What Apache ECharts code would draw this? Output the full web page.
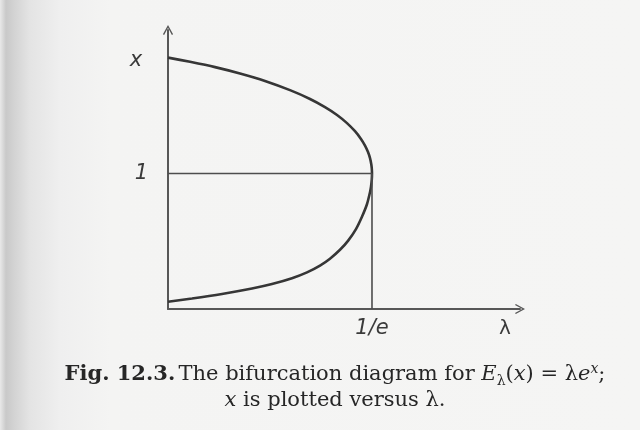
<!DOCTYPE html>
<html>
<head>
<meta charset="utf-8">
<script src="https://cdn.jsdelivr.net/npm/echarts@6/dist/echarts.min.js"></script>
<style>
  html, body { margin: 0; padding: 0; }
  body {
    width: 640px; height: 430px; overflow: hidden;
    background: linear-gradient(to right, #e9e9e9 0px, #c9c9c9 6px, #d3d3d3 14px, #e4e4e4 30px, #efefef 60px, #f4f4f3 110px, #f5f5f4 100%);
  }
  #chart { width: 640px; height: 430px; }
</style>
</head>
<body>
<div id="chart"></div>
<script>
// Fixed points x of E_lambda(x) = lambda * e^x, traced as x against lambda.
// Lower (attracting) branch, from lambda = 0 up to the fold at lambda = 1/e.
const lowerLambda = [0, 0.0433, 0.0974, 0.1515, 0.1875, 0.2236, 0.2507, 0.2741, 0.2921, 0.3102, 0.3246, 0.3390, 0.3498, 0.3588, 0.3643, 0.3661, 0.3675, 0.3679];
const lowerX      = [0.054, 0.0775, 0.111, 0.151, 0.184, 0.227, 0.270, 0.320, 0.371, 0.437, 0.503, 0.590, 0.681, 0.773, 0.862, 0.903, 0.956, 1.000];
// Upper (repelling) branch, from the fold back to lambda = 0.
const upperLambda = [0.3679, 0.3675, 0.3666, 0.3643, 0.3607, 0.3553, 0.3480, 0.3372, 0.3228, 0.3048, 0.2831, 0.2561, 0.2200, 0.1749, 0.1298, 0.0848, 0.0397, 0];
const upperX      = [1.000, 1.037, 1.068, 1.113, 1.158, 1.206, 1.255, 1.312, 1.372, 1.432, 1.490, 1.550, 1.615, 1.683, 1.738, 1.785, 1.824, 1.855];

// Bifurcation point and its tick labels
const foldLambda = 1 / Math.E;
const foldX = 1;
const lambdaTicks = [foldLambda];
const lambdaTickLabels = ['1/e'];
const xTicks = [foldX];
const xTickLabels = ['1'];

// One continuous curve: up the lower branch, through the fold, back down the upper branch
const curve = lowerLambda.map((l, i) => [l, lowerX[i]])
  .concat(upperLambda.slice(1).map((l, i) => [l, upperX[i + 1]]));

const openArrow = 'path://M5,0 L10,9 L8.8,9.8 L5,2.6 L1.2,9.8 L0,9 Z';
const axisColor = '#575757';
const labelFont = { fontFamily: 'DejaVu Sans', fontStyle: 'italic', fontSize: 21, color: '#3a3a3a' };

const chart = echarts.init(document.getElementById('chart'), null, { renderer: 'canvas' });
chart.setOption({
  backgroundColor: 'transparent',
  animation: false,
  grid: { left: 168, top: 30, width: 352, height: 279, containLabel: false },
  xAxis: {
    type: 'value', min: 0, max: 0.6348,
    axisLine: { show: true, symbol: ['none', openArrow], symbolSize: [11, 10],
                lineStyle: { color: axisColor, width: 2 } },
    axisTick: { show: false },
    splitLine: { show: false },
    axisLabel: Object.assign({
      customValues: lambdaTicks,
      formatter: v => lambdaTickLabels[lambdaTicks.indexOf(v)] || '',
      margin: 9
    }, labelFont)
  },
  yAxis: {
    type: 'value', min: 0, max: 2.059,
    axisLine: { show: true, symbol: ['none', openArrow], symbolSize: [11, 10],
                lineStyle: { color: axisColor, width: 2 } },
    axisTick: { show: false },
    splitLine: { show: false },
    axisLabel: Object.assign({
      customValues: xTicks,
      formatter: v => xTickLabels[xTicks.indexOf(v)] || '',
      margin: 20
    }, labelFont)
  },
  series: [
    {
      name: 'fixed points', type: 'line', data: curve,
      smooth: 0.25, showSymbol: false,
      lineStyle: { color: '#363636', width: 2.6 }
    },
    {
      name: 'x = 1', type: 'line', data: [[0, foldX], [foldLambda, foldX]],
      showSymbol: false, lineStyle: { color: '#4d4d4d', width: 1.6 }
    },
    {
      name: 'lambda = 1/e', type: 'line', data: [[foldLambda, 0], [foldLambda, foldX]],
      showSymbol: false, lineStyle: { color: '#4d4d4d', width: 1.6 }
    }
  ],
  graphic: [
    { type: 'text', x: 136, y: 61,
      style: { text: 'x', font: 'italic 21px "DejaVu Sans"', fill: '#3a3a3a', align: 'center', verticalAlign: 'middle' } },
    { type: 'text', x: 505, y: 329,
      style: { text: 'λ', font: '20px "DejaVu Sans"', fill: '#3a3a3a', align: 'center', verticalAlign: 'middle' } },
    { type: 'text', x: 335, y: 388,
      style: {
        text: '{b|Fig. 12.3.} {r|The bifurcation diagram for }{i|E}{sub|λ}{r|(}{i|x}{r|) = λ}{i|e}{sup|x}{r|;}\n{i|x}{r| is plotted versus λ.}',
        align: 'center', verticalAlign: 'middle', fill: '#2a2a2a',
        rich: {
          b:   { font: 'bold 21px "DejaVu Serif"', fill: '#262626', lineHeight: 26 },
          r:   { font: '21px "DejaVu Serif"', fill: '#262626', lineHeight: 26 },
          i:   { font: 'italic 21px "DejaVu Serif"', fill: '#262626', lineHeight: 26 },
          sub: { font: '14px "DejaVu Serif"', fill: '#262626', lineHeight: 16, verticalAlign: 'bottom' },
          sup: { font: 'italic 14px "DejaVu Serif"', fill: '#262626', lineHeight: 16, verticalAlign: 'top' }
        }
      } }
  ]
});
</script>
</body>
</html>
